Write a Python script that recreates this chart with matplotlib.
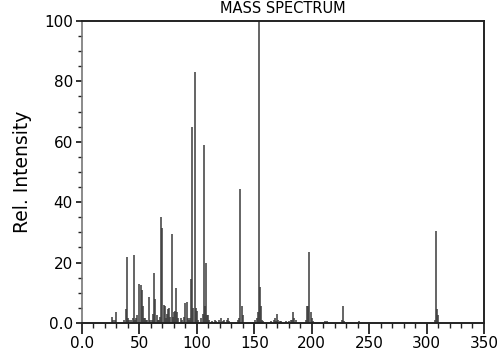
import matplotlib
matplotlib.use("Agg")
import matplotlib.pyplot as plt
from matplotlib.ticker import MultipleLocator, FuncFormatter

# ── Peak list (m/z, relative intensity) ─────────────────────────────────────
mz = [26, 27, 29, 30, 37, 38, 39, 40, 41, 43, 44, 45, 46, 47, 48,
      50, 51, 52, 53, 54, 55, 56, 57, 58, 59, 61, 62, 63, 64, 65, 66, 67,
      68, 69, 70, 71, 72, 73, 74, 75, 76, 77, 78, 79, 80, 81, 82, 83, 84,
      86, 87, 89, 90, 91, 92, 93, 94, 95, 96, 97, 98, 99, 100, 101,
      104, 105, 106, 107, 108, 109, 110, 111, 113, 116, 117, 119, 121, 123, 124,
      126, 127, 128, 136, 137, 138, 139, 140,
      151, 152, 153, 154, 155, 156, 157, 158,
      165, 167, 168, 169, 170, 171, 172, 173, 178, 180, 182, 183, 184, 185, 186,
      195, 196, 197, 198, 199, 200, 201, 212, 213, 226, 227, 228, 241,
      307, 308, 309, 310]
intensity = [2.0, 1.0, 1.0, 3.5, 1.0, 4.5, 22.0, 1.5, 1.0, 1.0, 1.5, 22.5, 1.0, 1.5, 2.5,
             13.0, 12.5, 11.0, 5.5, 1.5, 1.5, 1.0, 1.0, 8.5, 1.0, 1.0, 3.0, 16.5, 8.0, 2.5, 1.0, 1.0,
             2.0, 35.0, 31.5, 6.0, 5.5, 1.5, 3.0, 4.5, 5.0, 2.0, 29.5, 2.0, 3.5, 4.0, 11.5, 3.5, 1.5,
             1.5, 1.0, 2.0, 6.5, 7.0, 1.5, 1.0, 1.5, 14.5, 65.0, 5.0, 83.0, 5.0, 4.0, 1.0,
             1.5, 3.0, 59.0, 5.5, 20.0, 2.5, 2.5, 1.0, 0.5, 1.0, 0.5, 1.0, 1.5, 0.5, 1.0,
             1.0, 1.5, 0.5, 1.0, 1.5, 44.5, 5.5, 2.5,
             1.0, 1.5, 3.5, 100.0, 12.0, 5.5, 1.0, 0.5,
             0.5, 1.0, 1.5, 0.5, 3.0, 1.0, 0.5, 0.5, 0.5, 0.5, 1.0, 1.0, 3.5, 1.5, 1.0,
             1.0, 5.5, 5.5, 23.5, 3.5, 1.5, 0.5, 0.5, 0.5, 1.0, 5.5, 0.5, 0.5,
             1.0, 30.5, 4.5, 2.5]

title = "MASS SPECTRUM"
y_label = "Rel. Intensity"


def _fmt(v, pos):
    return "0.0" if v == 0 else f"{v:.0f}"


fig = plt.figure(figsize=(4.99, 3.51), dpi=100)
ax = fig.add_axes([0.1643, 0.0798, 0.8056, 0.8604])

ax.vlines(mz, 0, intensity, colors="#3a3a3a", linewidth=1.1)

ax.set_xlim(0, 350)
ax.set_ylim(0, 100)
ax.xaxis.set_major_locator(MultipleLocator(50))
ax.xaxis.set_minor_locator(MultipleLocator(10))
ax.yaxis.set_major_locator(MultipleLocator(20))
ax.yaxis.set_minor_locator(MultipleLocator(5))
ax.xaxis.set_major_formatter(FuncFormatter(_fmt))
ax.yaxis.set_major_formatter(FuncFormatter(_fmt))

ax.tick_params(axis="x", which="major", length=8, width=1.3, labelsize=11, pad=1.5, color="#222222")
ax.tick_params(axis="x", which="minor", length=3.5, width=1.0, color="#222222")
ax.tick_params(axis="y", which="major", length=4.5, width=1.3, labelsize=11, pad=2, color="#222222")
ax.tick_params(axis="y", which="minor", length=3, width=1.0, color="#222222")

for side in ("top", "right", "bottom"):
    ax.spines[side].set_color("#222222")
    ax.spines[side].set_linewidth(1.4)
ax.spines["left"].set_color("#777777")
ax.spines["left"].set_linewidth(1.2)

ax.set_title(title, fontsize=10.5, pad=6)
ax.set_ylabel(y_label, fontsize=13.5, labelpad=9)

fig.savefig("out.png", dpi=100)
